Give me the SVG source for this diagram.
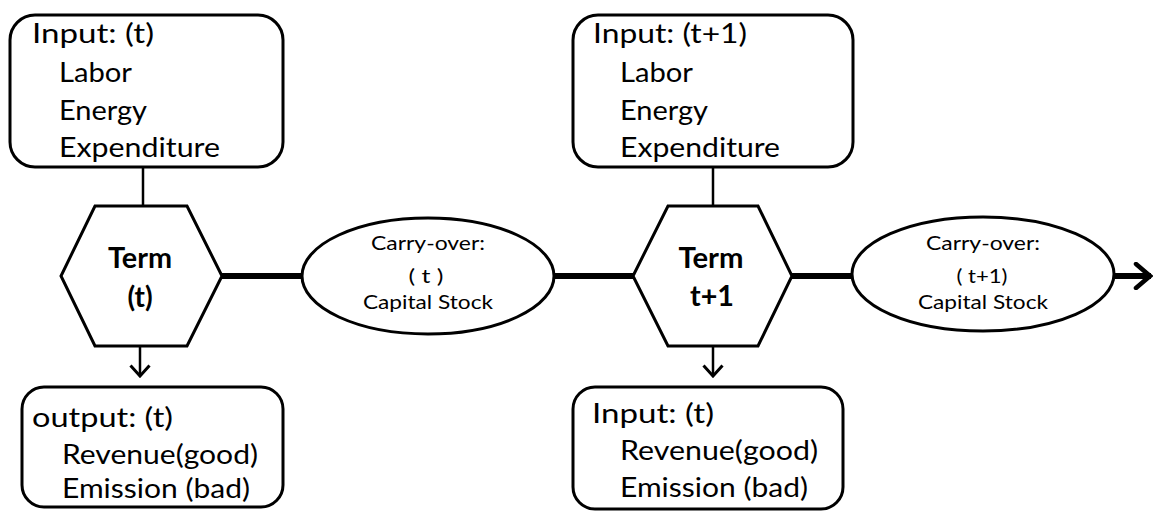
<svg xmlns="http://www.w3.org/2000/svg" width="1154" height="511" viewBox="0 0 1154 511">
<style>
.box{fill:#fff;stroke:#000;stroke-width:3}
.hex{fill:#fff;stroke:#000;stroke-width:3;stroke-linejoin:miter}
.ell{fill:#fff;stroke:#000;stroke-width:3}
.t{font-family:Lato,"Open Sans","Liberation Sans",sans-serif;font-size:27px;fill:#000}
.b{font-family:Lato,"Open Sans","Liberation Sans",sans-serif;font-size:28px;font-weight:bold;fill:#000;text-anchor:middle}
.s{font-family:Lato,"Open Sans","Liberation Sans",sans-serif;font-size:20px;fill:#000;text-anchor:middle}
.thin{stroke:#000;stroke-width:2.5;fill:none}
.thick{stroke:#000;stroke-width:6;fill:none}
</style>
<defs>
<marker id="arrD" markerUnits="userSpaceOnUse" viewBox="0 0 14 22" markerWidth="14" markerHeight="22" refX="12" refY="11" orient="auto">
<path d="M1.5,1.5 L12,11 L1.5,20.5" fill="none" stroke="#000" stroke-width="3"/>
</marker>
<marker id="arrR" markerUnits="userSpaceOnUse" viewBox="0 0 20 28" markerWidth="20" markerHeight="28" refX="18" refY="14" orient="auto">
<path d="M3,2 L17,14 L3,26" fill="none" stroke="#000" stroke-width="4.5" stroke-linecap="round"/>
</marker>
</defs>
<g id="connectors">
<line class="thin" x1="143" y1="167" x2="143" y2="206"/>
<line class="thin" x1="713" y1="167" x2="713" y2="206"/>
<line class="thick" x1="222" y1="276" x2="303" y2="276"/>
<line class="thick" x1="554" y1="276" x2="634" y2="276"/>
<line class="thick" x1="791" y1="276" x2="853" y2="276"/>
<line class="thick" x1="1114" y1="276" x2="1151" y2="276" marker-end="url(#arrR)"/>
<line class="thin" x1="140" y1="346" x2="140" y2="376" marker-end="url(#arrD)"/>
<line class="thin" x1="713" y1="346" x2="713" y2="376" marker-end="url(#arrD)"/>
</g>
<g id="input-t">
<rect class="box" x="10" y="15" width="273" height="152" rx="25" ry="25"/>
<text class="t" x="32" y="43" textLength="122" lengthAdjust="spacingAndGlyphs">Input:  (t)</text>
<text class="t" x="59" y="82" textLength="73" lengthAdjust="spacingAndGlyphs">Labor</text>
<text class="t" x="59" y="120" textLength="88" lengthAdjust="spacingAndGlyphs">Energy</text>
<text class="t" x="59" y="157" textLength="161" lengthAdjust="spacingAndGlyphs">Expenditure</text>
</g>
<g id="input-t1">
<rect class="box" x="573" y="15" width="280" height="152" rx="25" ry="25"/>
<text class="t" x="593" y="43" textLength="154" lengthAdjust="spacingAndGlyphs">Input:  (t+1)</text>
<text class="t" x="620" y="82" textLength="73" lengthAdjust="spacingAndGlyphs">Labor</text>
<text class="t" x="620" y="120" textLength="88" lengthAdjust="spacingAndGlyphs">Energy</text>
<text class="t" x="620" y="157" textLength="160" lengthAdjust="spacingAndGlyphs">Expenditure</text>
</g>
<g id="term-t">
<polygon class="hex" points="95,206 187,206 222,276 187,346 95,346 61,276"/>
<text class="b" x="140" y="268" textLength="64" lengthAdjust="spacingAndGlyphs">Term</text>
<text class="b" x="140" y="307">(t)</text>
</g>
<g id="term-t1">
<polygon class="hex" points="668,206 758,206 792,276 758,346 668,346 633,276"/>
<text class="b" x="711" y="268" textLength="65" lengthAdjust="spacingAndGlyphs">Term</text>
<text class="b" x="712" y="306" textLength="44" lengthAdjust="spacingAndGlyphs">t+1</text>
</g>
<g id="carry-t">
<ellipse class="ell" cx="428" cy="276" rx="126" ry="58"/>
<text class="s" x="428" y="250" textLength="114" lengthAdjust="spacingAndGlyphs">Carry-over:</text>
<text class="s" x="426" y="283" textLength="35" lengthAdjust="spacingAndGlyphs">( t )</text>
<text class="s" x="428" y="309" textLength="130" lengthAdjust="spacingAndGlyphs">Capital Stock</text>
</g>
<g id="carry-t1">
<ellipse class="ell" cx="983" cy="274" rx="131" ry="57"/>
<text class="s" x="983" y="250" textLength="114" lengthAdjust="spacingAndGlyphs">Carry-over:</text>
<text class="s" x="982" y="283" textLength="51" lengthAdjust="spacingAndGlyphs">( t+1)</text>
<text class="s" x="983" y="309" textLength="130" lengthAdjust="spacingAndGlyphs">Capital Stock</text>
</g>
<g id="output-t">
<rect class="box" x="22" y="387" width="261" height="120" rx="22" ry="22"/>
<text class="t" x="32" y="427" textLength="141" lengthAdjust="spacingAndGlyphs">output: (t)</text>
<text class="t" x="62" y="464" textLength="196" lengthAdjust="spacingAndGlyphs">Revenue(good)</text>
<text class="t" x="62" y="498" textLength="188" lengthAdjust="spacingAndGlyphs">Emission (bad)</text>
</g>
<g id="input-t-out">
<rect class="box" x="573" y="387" width="270" height="122" rx="22" ry="22"/>
<text class="t" x="592" y="423" textLength="122" lengthAdjust="spacingAndGlyphs">Input:  (t)</text>
<text class="t" x="620" y="460" textLength="198" lengthAdjust="spacingAndGlyphs">Revenue(good)</text>
<text class="t" x="620" y="497" textLength="188" lengthAdjust="spacingAndGlyphs">Emission (bad)</text>
</g>
</svg>
